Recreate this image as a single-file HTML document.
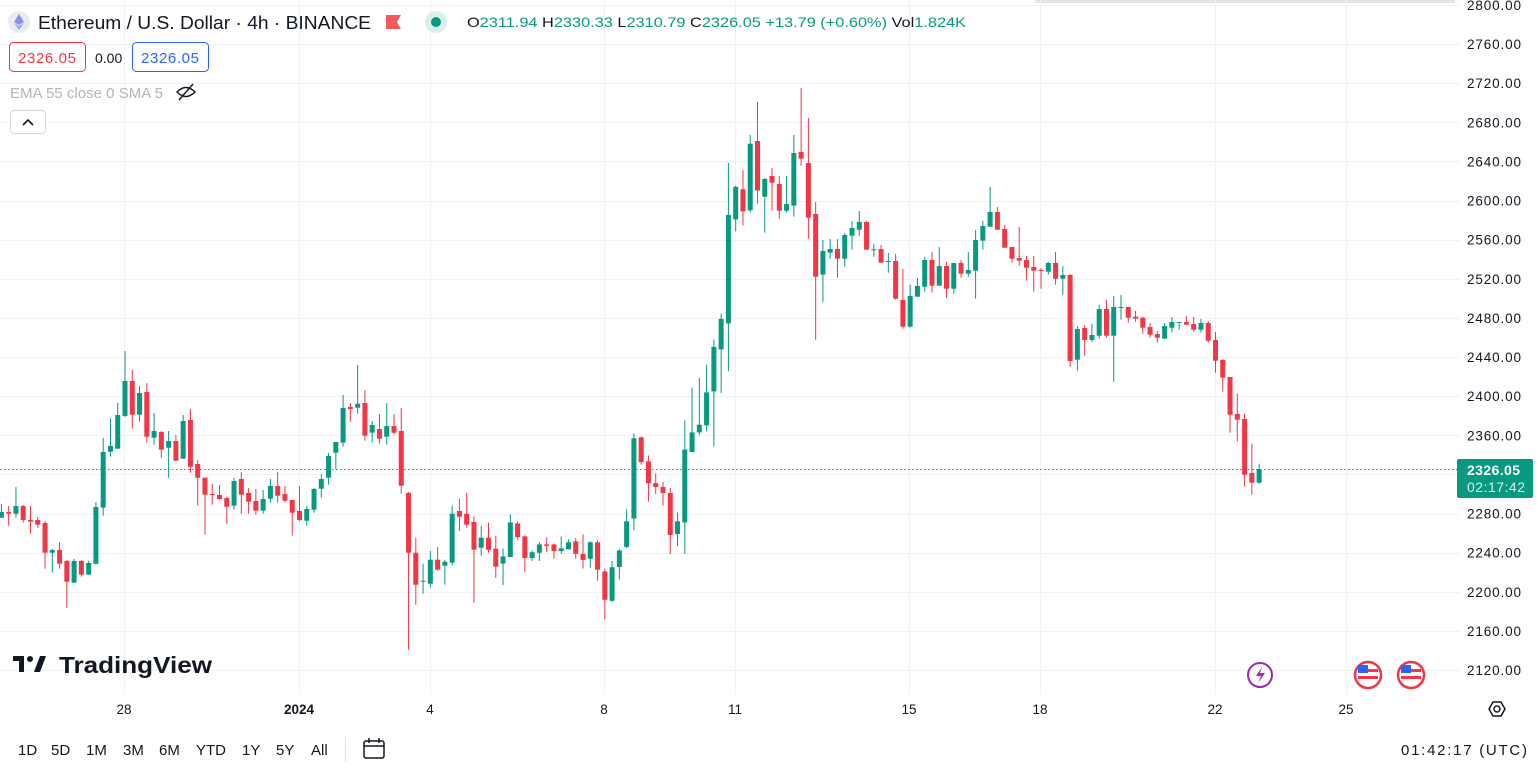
<!DOCTYPE html>
<html><head><meta charset="utf-8">
<style>
html,body{margin:0;padding:0;background:#fff;width:1537px;height:771px;overflow:hidden;font-family:"Liberation Sans",sans-serif;color:#131722}
svg{position:absolute;left:0;top:0}
</style></head>
<body>
<svg id="s" width="1537" height="771" viewBox="0 0 1537 771" xmlns="http://www.w3.org/2000/svg" font-family="Liberation Sans, sans-serif">
<rect x="1035" y="0" width="420" height="3" fill="#e3e5ea"/>
<g id="grid" stroke="#f0f1f4" stroke-width="1"></g>
<g id="cd"></g>
<line x1="0" y1="469.5" x2="1460" y2="469.5" stroke="#089981" stroke-width="1" stroke-dasharray="1.5,2.5"/>
<g id="plabels" font-size="13.5" fill="#131722"></g>
<rect x="1457" y="459" width="76" height="39" rx="2" fill="#089981"/>
<text x="1467" y="475" font-size="14" font-weight="bold" fill="#fff" textLength="53">2326.05</text>
<text x="1467" y="492" font-size="14" fill="#d9f0ea" textLength="58">02:17:42</text>
<g font-size="13.5" fill="#131722" text-anchor="middle">
<text x="124" y="714">28</text>
<text x="299" y="714" font-weight="bold">2024</text>
<text x="430" y="714">4</text>
<text x="604" y="714">8</text>
<text x="735" y="714">11</text>
<text x="909" y="714">15</text>
<text x="1040" y="714">18</text>
<text x="1215" y="714">22</text>
<text x="1346" y="714">25</text>
</g>
<polygon points="1489,709 1493,702 1501,702 1505,709 1501,716 1493,716" fill="none" stroke="#131722" stroke-width="1.5"/>
<circle cx="1497" cy="709" r="3" fill="none" stroke="#131722" stroke-width="1.5"/>
<!-- header -->
<circle cx="19" cy="22" r="11" fill="#e9ebf3"/>
<polygon points="19,14 24,22 19,25 14,22" fill="#8a92e6"/>
<polygon points="19,26 24,23 19,30 14,23" fill="#a0a6ef"/>
<text x="38" y="29" font-size="18" fill="#131722" textLength="333" lengthAdjust="spacingAndGlyphs">Ethereum / U.S. Dollar · 4h · BINANCE</text>
<polygon points="386,15 401,15 397,22 401,29 386,29" fill="#f45b5b"/>
<circle cx="436" cy="22" r="11" fill="#dbf0ec"/>
<circle cx="436" cy="22" r="5" fill="#089981"/>
<text x="467" y="27" font-size="14" fill="#089981" textLength="499" lengthAdjust="spacingAndGlyphs"><tspan fill="#131722">O</tspan>2311.94 <tspan fill="#131722">H</tspan>2330.33 <tspan fill="#131722">L</tspan>2310.79 <tspan fill="#131722">C</tspan>2326.05 +13.79 (+0.60%) <tspan fill="#131722">Vol</tspan>1.824K</text>
<rect x="9.5" y="42.5" width="76" height="29" rx="4" fill="#fff" stroke="#f23645"/>
<text x="18" y="63" font-size="15" fill="#f23645" textLength="58">2326.05</text>
<text x="95" y="63" font-size="14" fill="#131722">0.00</text>
<rect x="132.5" y="42.5" width="76" height="29" rx="4" fill="#fff" stroke="#2962ff"/>
<text x="141" y="63" font-size="15" fill="#2962ff" textLength="58">2326.05</text>
<text x="10" y="98" font-size="15" fill="#b2b5be" textLength="153" lengthAdjust="spacingAndGlyphs">EMA 55 close 0 SMA 5</text>
<g stroke="#131722" stroke-width="1.4" fill="none"><path d="M177,92 Q186,83 195,92 Q186,101 177,92Z"/><line x1="179" y1="100" x2="193" y2="84"/></g>
<rect x="10.5" y="110.5" width="35" height="23" rx="4" fill="#fff" stroke="#d1d4dc"/>
<polyline points="23,125 28,120 33,125" fill="none" stroke="#131722" stroke-width="1.6"/>
<!-- logo -->
<g fill="#131722"><rect x="13" y="656" width="11" height="5"/><rect x="19" y="656" width="5" height="16"/><circle cx="30" cy="659" r="3"/><polygon points="34,672 40,656 46,656 40,672"/></g>
<text x="59" y="673" font-size="23" font-weight="bold" fill="#131722" textLength="153" lengthAdjust="spacingAndGlyphs">TradingView</text>
<!-- event icons -->
<circle cx="1260" cy="675" r="12" fill="#fff" stroke="#9c27b0" stroke-width="2"/>
<path d="M1262,667 L1256,676 L1261,676 L1258,683 L1265,673 L1260,673Z" fill="#9c27b0"/>
<g><circle cx="1368" cy="675" r="13" fill="#fff" stroke="#f23645" stroke-width="2.5"/><rect x="1358" y="669" width="20" height="3" fill="#f23645"/><rect x="1358" y="676" width="20" height="3" fill="#f23645"/><rect x="1358" y="665" width="10" height="8" fill="#2962ff"/></g>
<g><circle cx="1411" cy="675" r="13" fill="#fff" stroke="#f23645" stroke-width="2.5"/><rect x="1401" y="669" width="20" height="3" fill="#f23645"/><rect x="1401" y="676" width="20" height="3" fill="#f23645"/><rect x="1401" y="665" width="10" height="8" fill="#2962ff"/></g>
<!-- bottom bar -->
<g font-size="15" fill="#131722">
<text x="18" y="755">1D</text><text x="51" y="755">5D</text><text x="86" y="755">1M</text><text x="123" y="755">3M</text><text x="159" y="755">6M</text><text x="196" y="755">YTD</text><text x="242" y="755">1Y</text><text x="276" y="755">5Y</text><text x="311" y="755">All</text>
<text x="1527" y="755" text-anchor="end" textLength="126">01:42:17 (UTC)</text>
</g>
<line x1="345.5" y1="737" x2="345.5" y2="762" stroke="#e0e3eb"/>
<g stroke="#131722" stroke-width="1.5" fill="none"><rect x="364" y="741" width="20" height="17" rx="2"/><line x1="364" y1="746" x2="384" y2="746"/><line x1="369" y1="738" x2="369" y2="743"/><line x1="379" y1="738" x2="379" y2="743"/></g>
</svg>
<script>
var NS="http://www.w3.org/2000/svg";
function el(p,t,a){var e=document.createElementNS(NS,t);for(var k in a)e.setAttribute(k,a[k]);p.appendChild(e);return e;}
var grid=document.getElementById('grid'),pl=document.getElementById('plabels');
for(var p=2800;p>=2120;p-=40){var y=5+(2800-p)*0.978;el(grid,'line',{x1:0,x2:1460,y1:Math.round(y)+0.5,y2:Math.round(y)+0.5});
 if(Math.abs(p-2320)>10){var t=el(pl,'text',{x:1467,y:y+5,textLength:54});t.textContent=p.toFixed(2);}}
[124,299,430,604,735,909,1040,1215,1346].forEach(function(x){el(grid,'line',{x1:x+0.5,x2:x+0.5,y1:0,y2:694});});
var D=[
[512,517.7,504,517.7,1],[512,513.7,506,525.7,0],[506,513.7,487,517.7,1],[506,520,505,522.7,0],[520,521.7,506,533.7,0],[520,524.7,517,527.7,0],[523,552.7,521,568.7,0],[550,552.7,549,572.7,1],[550,563.7,542,568.7,0],[561,581.7,560,607.7,0],[561,582.7,559,582.7,1],[561,574.7,560,576.7,0],[563,574.7,561,574.7,1],[507,563.7,502,564.7,1],[452,507.7,438,515.7,1],[446,451.7,418,456.7,1],[415,448.7,403,448.7,1],
[381,416,351,417,1],[381,414.7,370,428.7,0],[393,414.7,386,421.7,1],[392,436.7,383,442.7,0],[431,437.7,413,444.7,1],[432,449.7,431,457.7,0],[441,447.7,431,477.7,1],[441,460.7,435,460.7,0],[421,458.7,415,458.7,1],[420,466.7,409,472.7,0],[464,477.7,460,505.7,0],[477.7,494.7,477.7,534.7,0],[494,495,484,504.7,0],[495,499,485,499.7,0],[498,506.7,496.7,523.7,0],[481,505.7,478,509.7,1],[479,494.7,472,513.7,0],[493,501.7,488,513.7,0],[501,510.7,489,514.7,0],
[499,510.7,490,513.7,1],[486,498.7,479,502.7,1],[486,495.7,472,502.7,0],[494,500.7,486,502.7,0],[500,512.7,500,535.7,0],[511,520,486,521,0],[509,520.7,506,525.7,1],[489,509.7,488,512.7,1],[479,488.7,474,497.7,1],[456,477.7,453,484.7,1],[442,452.7,442,469.3,1],[408,442.7,395,446.7,1],[407,409,403,421.7,0],[403.7,407.7,365,413.7,1],[403,435.7,390,440.7,0],[425,432.7,421,442.7,1],[429,438.7,414,443.7,0],[426,436.7,403,444.7,1],[426,432.7,414,434.7,0],[431,485.7,408,493.7,0],[493,552.7,492,649.7,0],[552.7,584.7,537.7,604.7,0],[580.7,581.7,563.7,593.7,1],[559.7,583.7,551,587.7,1],[559.7,569.7,547,570.7,0],[561.7,565.7,559.7,584.7,1],[513.7,562.7,505.7,565.7,1],[511,516.7,498.7,531,0],[513.7,524.7,492.7,527.7,0],[522,549.7,516.7,602.7,0],[537.7,547.7,525.7,555.7,1],[537.7,549.7,522.7,552.7,0],[548.7,566.7,535.7,577.7,0],[556.5,563.5,548.5,585,1],
[522.4,557,514.3,557,1],[523.4,537.1,521.3,539.9,0],[536.4,558.1,535.3,571.8,0],[552.2,558.1,550.4,560.9,1],[544.4,552.8,542.3,560.9,1],[544.4,545.9,537.4,551.8,0],[544.4,551.1,543.4,558.8,0],[548.3,551.1,536.4,553.9,1],[542.3,549.3,539.2,549.3,1],[541.3,553.9,538.1,558.8,0],[553.9,559.9,534.3,568.6,0],[542.3,558.8,541.3,567.9,1],[542.3,569.7,540.2,580.9,0],[571.4,599.8,568.6,619.4,0],[567.2,600.8,560.9,601.9,1],[550.4,566.9,549.3,579.5,1],[521.3,546.9,509.4,548,1],[438.3,518.5,433.4,530.1,1],[437.3,462.1,436.6,464.6,0],[461.4,483.2,455.5,501.7,0],[483.2,487,473.4,494,0],[487,493,482.1,505.6,0],[493,535,488,553.9,0],[521.3,534,512.6,545.9,1],[449.5,522.4,420.5,553.9,1],[432.4,452,387.5,452,1],[424.7,432.4,377.7,435.2,1],[392.4,425.4,364.8,431.3,1],[346.9,391.4,339.5,446.4,1],[318.9,349.4,313.6,393.1,1],[214.9,323.4,163,371.1,1],[186.8,219.4,185.8,231.3,1],[189.3,211.3,170,225.4,0],[143.7,210.3,135,212.4,1],[141,190.5,102,203.6,0],
[179,196.7,178,232.7,1],[176,182.7,168,210.7,0],[184,210.7,176,218.7,0],[204,210.7,176,212.7,1],[153,205.7,135,216.7,1],[152,158.7,88,165.7,0],[163,217.7,118,238.7,0],[214,276.7,202,339.7,0],[251,274.7,240,301.7,1],[249,252.7,239,258.7,1],[249,258.7,239,277.7,0],[235,258.7,233,266.7,1],[228,235.7,221,249.7,1],[222,229.7,211,235.7,1],[222,249.7,221,249.7,0],[249.3,250.3,244,256.7,1],[249,262.7,245,262.7,0],[261,261.9,253,272.7,1],[261,298.7,254,299.7,0],[300,326.7,269,328.7,0],[296,326.7,284.7,327.7,1],[286,296.7,278,296.7,1],[260,286.7,256.7,291.7,1],[260,285.7,252,292.7,0],[266,285.7,247,285.7,1],[266,288.7,261.7,297.7,0],[263,288.7,263,293.7,1],[263,273.7,260,277.7,0],[270,273.7,252,276.7,1],[240,270.7,230,298.7,1],[226,240.7,221,249.7,1],[212,226.7,187,226.7,1],[212,229.7,207,229.7,0],[229,247.7,225,247.7,0],
[247,258.7,247,262.7,0],[258,260.7,227,265.7,0],[260,267.7,256,280.7,0],[267,270.7,256,291.7,0],[270,270.9,268,288.7,0],[263,271.7,262,274.7,1],[263,278.7,252,284.7,0],[275,278.7,266,294.7,1],[275,361,274,366.7,0],[329,359.7,326,370.7,1],[328,340,325,355.7,0],[335,340,324,342,1],[309,335.7,305,338.7,1],[309,335.7,300,337.7,0],[307,335.7,296,381.7,1],[307,307.9,295,319.7,1],[307,317.7,307,322.7,0],[316.7,318.7,311,321.7,0],[317.7,327.7,316.7,333.7,0],[327,334.7,323,337.7,0],[334,337.7,331,342.7,0],[326,338.7,323,338.7,1],[322,327.7,317,332.7,1],[322,322.9,322,329.7,1],[322,324.7,316,324.7,0],[324,329.7,317,331.7,0],[323,329.7,319,332.7,1],[323,340.7,321,342.7,0],[340,360.7,332,372.7,0],[360,377.7,359,391.7,0],[377,414.7,377,432.7,0],[414,419.7,393.7,441.7,0],[419,474.7,413.7,486.7,0],[473,482.7,443.7,494.7,0],[469,482.7,463.7,483.7,1]
];
var g=document.getElementById('cd');
D.forEach(function(c,i){var x=125+(i-17)*7.27;var col=c[4]?'#089981':'#f23645';
 el(g,'rect',{x:(x-0.5).toFixed(2),y:c[2],width:1,height:Math.max(1,c[3]-c[2]),fill:col});
 el(g,'rect',{x:(x-2.5).toFixed(2),y:c[0],width:5,height:Math.max(1,c[1]-c[0]),fill:col});});
</script>
</body></html>
